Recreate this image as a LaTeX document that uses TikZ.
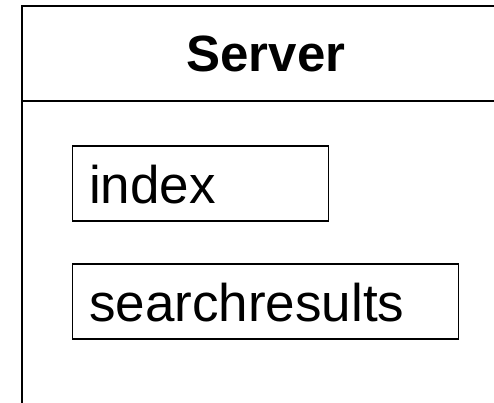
\documentclass[tikz,border=0pt]{standalone}
\usepackage{fontspec}
\setmainfont{Liberation Sans}
\begin{document}
\begin{tikzpicture}[x=1pt,y=1pt,
  frame/.style={draw=black,line width=2pt},
  member/.style={draw=black,line width=1.6pt,rectangle,anchor=north west,
    inner sep=0pt},
  label/.style={anchor=base west,inner sep=0pt,font=\fontsize{53}{60}\selectfont}]
\useasboundingbox (0,0) rectangle (494,-402);
\begin{scope}
\clip (0,0) rectangle (494,-402);
% class frame with its name compartment
\draw[frame] (22,-430) -- (22,-6) -- (530,-6) -- (530,-430);
\coordinate (divL) at (22,-101);
\coordinate (divR) at (530,-101);
\draw[frame] (divL) -- (divR);
\node[anchor=base,inner sep=0pt,font=\fontsize{51}{60}\selectfont\bfseries] (title) at (266,-71.5) {Server};
% attribute boxes
\node[member,minimum width=256pt,minimum height=75pt] (indexbox) at (71.5,-145) {};
\node[label] (index) at (89,-203) {index};
\node[member,minimum width=386pt,minimum height=75pt] (resultsbox) at (71.5,-263) {};
\node[label] (results) at (89,-321) {searchresults};
\end{scope}
\end{tikzpicture}
\end{document}
